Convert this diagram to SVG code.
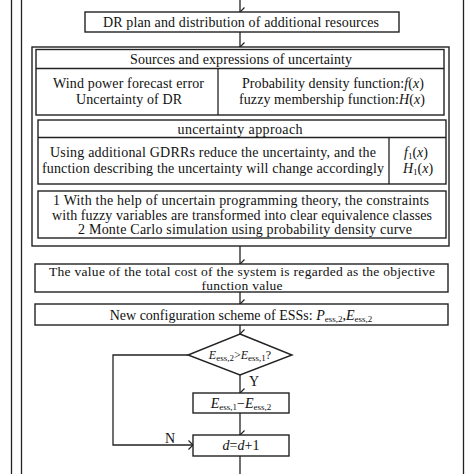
<svg xmlns="http://www.w3.org/2000/svg" width="474" height="474" viewBox="0 0 474 474">
<style>
.b{fill:#fff;stroke:#222;stroke-width:1.4}
.l{fill:none;stroke:#222;stroke-width:1.3}
text{font-family:"Liberation Serif","Times New Roman",serif;font-size:14px;fill:#111;text-anchor:middle}
.i{font-style:italic}
.s{font-size:9px;font-style:normal}
</style>
<defs>
<marker id="a" markerWidth="10" markerHeight="10" refX="5" refY="8" orient="auto" markerUnits="userSpaceOnUse" viewBox="0 0 10 10">
<path d="M0.5,3.5 L5,8 L9.5,3.5" fill="none" stroke="#222" stroke-width="1.2"/>
</marker>
<marker id="ar" markerWidth="10" markerHeight="10" refX="9" refY="5" orient="0" markerUnits="userSpaceOnUse" viewBox="0 0 10 10">
<path d="M4.5,0.5 L9,5 L4.5,9.5" fill="none" stroke="#222" stroke-width="1.2"/>
</marker>
</defs>
<rect width="474" height="474" fill="#fff"/>
<g id="borders">
<line x1="11.5" y1="0" x2="11.5" y2="474" class="l" stroke-width="1.6"/>
<line x1="21.5" y1="0" x2="21.5" y2="474" class="l" stroke-width="1.6"/>
<line x1="463.5" y1="0" x2="463.5" y2="474" class="l" stroke-width="1.6"/>
</g>
<g id="connectors">
<line x1="240" y1="0" x2="240" y2="12" class="l" marker-end="url(#a)"/>
<line x1="240" y1="32" x2="240" y2="47" class="l" marker-end="url(#a)"/>
<line x1="240" y1="246" x2="240" y2="264" class="l" marker-end="url(#a)"/>
<line x1="240" y1="292" x2="240" y2="304" class="l" marker-end="url(#a)"/>
<line x1="240" y1="325" x2="240" y2="334" class="l" marker-end="url(#a)"/>
<line x1="240" y1="375" x2="240" y2="393" class="l" marker-end="url(#a)"/>
<line x1="240" y1="413" x2="240" y2="435" class="l" marker-end="url(#a)"/>
<polyline points="188,355 113,355 113,445 193,445" class="l" marker-end="url(#ar)"/>
<line x1="240" y1="456" x2="240" y2="474" class="l"/>
<text x="170" y="443">N</text>
<text x="254" y="386">Y</text>
</g>
<g id="dr-plan">
<rect x="85" y="12" width="314" height="20" class="b"/>
<text x="241" y="26.5" textLength="276">DR plan and distribution of additional resources</text>
</g>
<g id="uncertainty-frame">
<rect x="32" y="47" width="417" height="199" class="b"/>
</g>
<g id="sources">
<rect x="36" y="49.5" width="408" height="65.5" class="b"/>
<line x1="36" y1="68.5" x2="444" y2="68.5" class="l"/>
<line x1="218" y1="68.5" x2="218" y2="115" class="l"/>
<text x="241" y="63.5" textLength="222">Sources and expressions of uncertainty</text>
<text x="128.5" y="88" textLength="151">Wind power forecast error</text>
<text x="129" y="104" textLength="106">Uncertainty of DR</text>
<text x="333" y="88" textLength="182">Probability density function:<tspan class="i">f</tspan>(<tspan class="i">x</tspan>)</text>
<text x="332" y="104" textLength="186">fuzzy membership function:<tspan class="i">H</tspan>(<tspan class="i">x</tspan>)</text>
</g>
<g id="approach">
<rect x="38" y="120" width="408" height="64" class="b"/>
<line x1="38" y1="137.5" x2="446" y2="137.5" class="l"/>
<line x1="389" y1="137.5" x2="389" y2="184" class="l"/>
<text x="240" y="133.5" textLength="125">uncertainty approach</text>
<text x="213" y="157" textLength="326">Using additional GDRRs reduce the uncertainty, and the</text>
<text x="213" y="173" textLength="342">function describing the uncertainty will change accordingly</text>
<text x="416" y="157"><tspan class="i">f</tspan><tspan class="s" dy="2">1</tspan><tspan dy="-2">(</tspan><tspan class="i">x</tspan>)</text>
<text x="418" y="173"><tspan class="i">H</tspan><tspan class="s" dy="2">1</tspan><tspan dy="-2">(</tspan><tspan class="i">x</tspan>)</text>
</g>
<g id="methods">
<rect x="38" y="191" width="408" height="47" class="b"/>
<text x="241" y="205" textLength="376">1 With the help of uncertain programming theory, the constraints</text>
<text x="242" y="219.5" textLength="380">with fuzzy variables are transformed into clear equivalence classes</text>
<text x="245" y="234" textLength="334">2 Monte Carlo simulation using probability density curve</text>
</g>
<g id="objective">
<rect x="35" y="264" width="413" height="28" class="b"/>
<text x="242" y="276" textLength="386" style="font-size:13.5px">The value of the total cost of the system is regarded as the objective</text>
<text x="242" y="289.5" textLength="81" style="font-size:13.5px">function value</text>
</g>
<g id="new-config">
<rect x="35" y="304" width="413" height="21" class="b"/>
<text x="241" y="320">New configuration scheme of ESSs: <tspan class="i">P</tspan><tspan class="s" dy="2">ess,2</tspan><tspan dy="-2">,</tspan><tspan class="i">E</tspan><tspan class="s" dy="2">ess,2</tspan></text>
</g>
<g id="decision">
<polygon points="240,334 292,355 240,375 188,355" class="b"/>
<text x="240" y="359" style="font-size:12px"><tspan class="i">E</tspan><tspan class="s" dy="2">ess,2</tspan><tspan dy="-2">&gt;</tspan><tspan class="i">E</tspan><tspan class="s" dy="2">ess,1</tspan><tspan dy="-2">?</tspan></text>
</g>
<g id="difference">
<rect x="193" y="393" width="96" height="20" class="b"/>
<text x="241" y="408"><tspan class="i">E</tspan><tspan class="s" dy="2">ess,1</tspan><tspan dy="-2">−</tspan><tspan class="i">E</tspan><tspan class="s" dy="2">ess,2</tspan></text>
</g>
<g id="increment">
<rect x="193" y="435" width="96" height="21" class="b"/>
<text x="241" y="450"><tspan class="i">d</tspan>=<tspan class="i">d</tspan>+1</text>
</g>
</svg>
